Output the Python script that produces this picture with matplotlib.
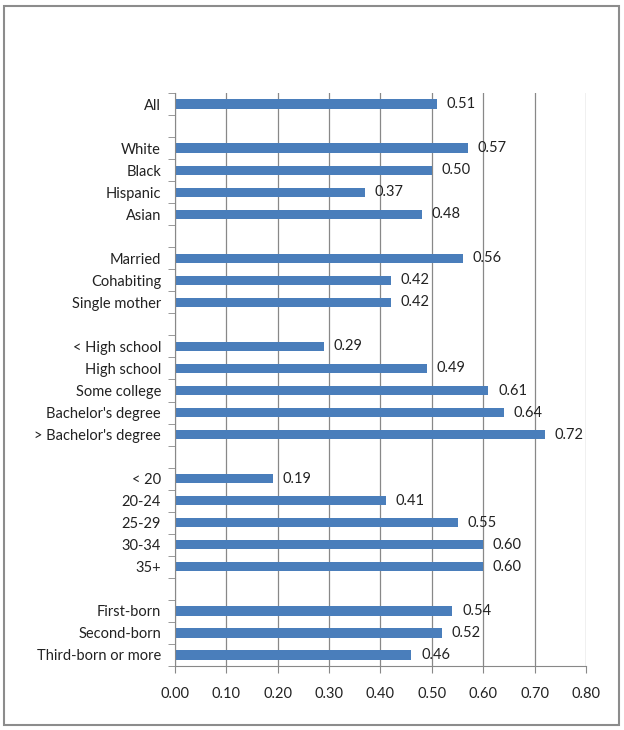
import numpy as np
import matplotlib.pyplot as plt
from matplotlib.patches import Rectangle

plt.rcParams['font.family'] = ['Lato', 'DejaVu Sans']

# category groups, blank rows separate them
groups = [
    ["All"],
    ["White", "Black", "Hispanic", "Asian"],
    ["Married", "Cohabiting", "Single mother"],
    ["< High school", "High school", "Some college", "Bachelor's degree", "> Bachelor's degree"],
    ["< 20", "20-24", "25-29", "30-34", "35+"],
    ["First-born", "Second-born", "Third-born or more"],
]
values = [
    [0.51],
    [0.57, 0.50, 0.37, 0.48],
    [0.56, 0.42, 0.42],
    [0.29, 0.49, 0.61, 0.64, 0.72],
    [0.19, 0.41, 0.55, 0.60, 0.60],
    [0.54, 0.52, 0.46],
]
x_ticks = [0.0, 0.1, 0.2, 0.3, 0.4, 0.5, 0.6, 0.7, 0.8]

labels = []
vals = []
for gi, (g, v) in enumerate(zip(groups, values)):
    if gi > 0:
        labels.append("")
        vals.append(np.nan)
    labels += g
    vals += v

n = len(labels)
pos = np.arange(n)

fig = plt.figure(figsize=(6.24, 7.30), dpi=100)
fig.patches.append(Rectangle((0.007, 0.007), 0.985, 0.985, transform=fig.transFigure,
                             fill=False, edgecolor="#8c8c8c", linewidth=1.5))
ax = fig.add_axes([0.2804, 0.0877, 0.6587, 0.7849])

vals_arr = np.array(vals)
mask = ~np.isnan(vals_arr)
bars = ax.barh(pos[mask], vals_arr[mask], height=0.42, color="#4a7ebb", zorder=3)
ax.bar_label(bars, labels=[f"{v:.2f}" for v in vals_arr[mask]], padding=7,
             fontsize=10.5, color="#222222")

ax.set_ylim(n - 0.5, -0.5)
ax.set_xlim(0, 0.8)
ax.set_yticks(pos[mask])
ax.set_yticklabels([labels[i] for i in pos[mask]], fontsize=10.5, color="#222222")
ax.set_yticks(np.arange(-0.5, n, 1.0), minor=True)
ax.tick_params(axis="y", which="major", length=0, pad=10)
ax.tick_params(axis="y", which="minor", length=5, color="#888888", direction="out")

ax.set_xticks(x_ticks)
ax.set_xticklabels([f"{t:.2f}" for t in x_ticks], fontsize=10.5, color="#222222")
ax.tick_params(axis="x", length=5, color="#888888", pad=10)

ax.grid(axis="x", color="#888888", linewidth=0.9, zorder=0)
for s in ["top", "right"]:
    ax.spines[s].set_visible(False)
ax.spines["left"].set_color("#888888")
ax.spines["bottom"].set_color("#888888")
ax.spines["left"].set_zorder(4)

fig.savefig("out.png", dpi=100)
